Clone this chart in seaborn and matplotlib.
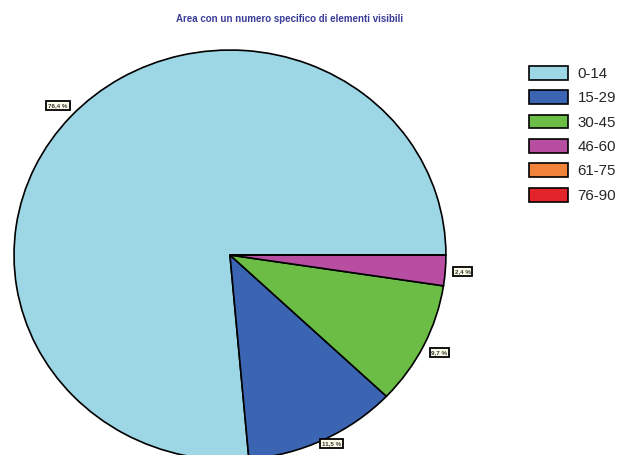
import matplotlib
matplotlib.use("Agg")
import matplotlib.pyplot as plt
import seaborn as sns

categories = ["0-14", "15-29", "30-45", "46-60", "61-75", "76-90"]
percentages = [76.4, 11.5, 9.7, 2.4, 0.0, 0.0]
slice_colors = ["#9dd6e5", "#3b65b3", "#6cbd45", "#b84ea2", "#f0823a", "#e3242b"]
title = "Area con un numero specifico di elementi visibili"

sns.set_style("white")
plt.rcParams["font.family"] = ["Liberation Sans", "DejaVu Sans"]

fig = plt.figure(figsize=(6.37, 4.55), dpi=100)
ax = fig.add_axes([0.022, -0.011, 0.678, 0.901])

wedges, _, autotexts = ax.pie(
    percentages,
    colors=sns.color_palette(slice_colors),
    startangle=0,
    counterclock=True,
    autopct=lambda p: f"{p:.1f} %".replace(".", ",") if p > 0 else "",
    pctdistance=1.08,
    wedgeprops=dict(edgecolor="black", linewidth=1.2),
    textprops=dict(fontsize=4.5, fontweight="bold", color="#333333",
                   bbox=dict(boxstyle="square,pad=0.3", facecolor="#fdfde8",
                             edgecolor="black", linewidth=1.3)),
)
for t, p in zip(autotexts, percentages):
    if p <= 0:
        t.set_visible(False)
    # keep labels near the clipped bottom edge inside the figure
    x, y = t.get_position()
    t.set_position((x, max(y, -0.92)))

ax.set_aspect("auto")
ax.set_xlim(-1, 1)
ax.set_ylim(-1, 1)
ax.axis("off")

fig.text(0.455, 0.958, title, ha="center", va="center", fontsize=7,
         fontweight="bold", color="#3a3d98")

fig.legend(wedges, categories, loc="upper left", bbox_to_anchor=(0.81, 0.885),
           frameon=False, fontsize=10.8, handlelength=2.6, handleheight=1.05,
           labelspacing=0.62, handletextpad=0.6)

fig.savefig("out.png", dpi=100)
